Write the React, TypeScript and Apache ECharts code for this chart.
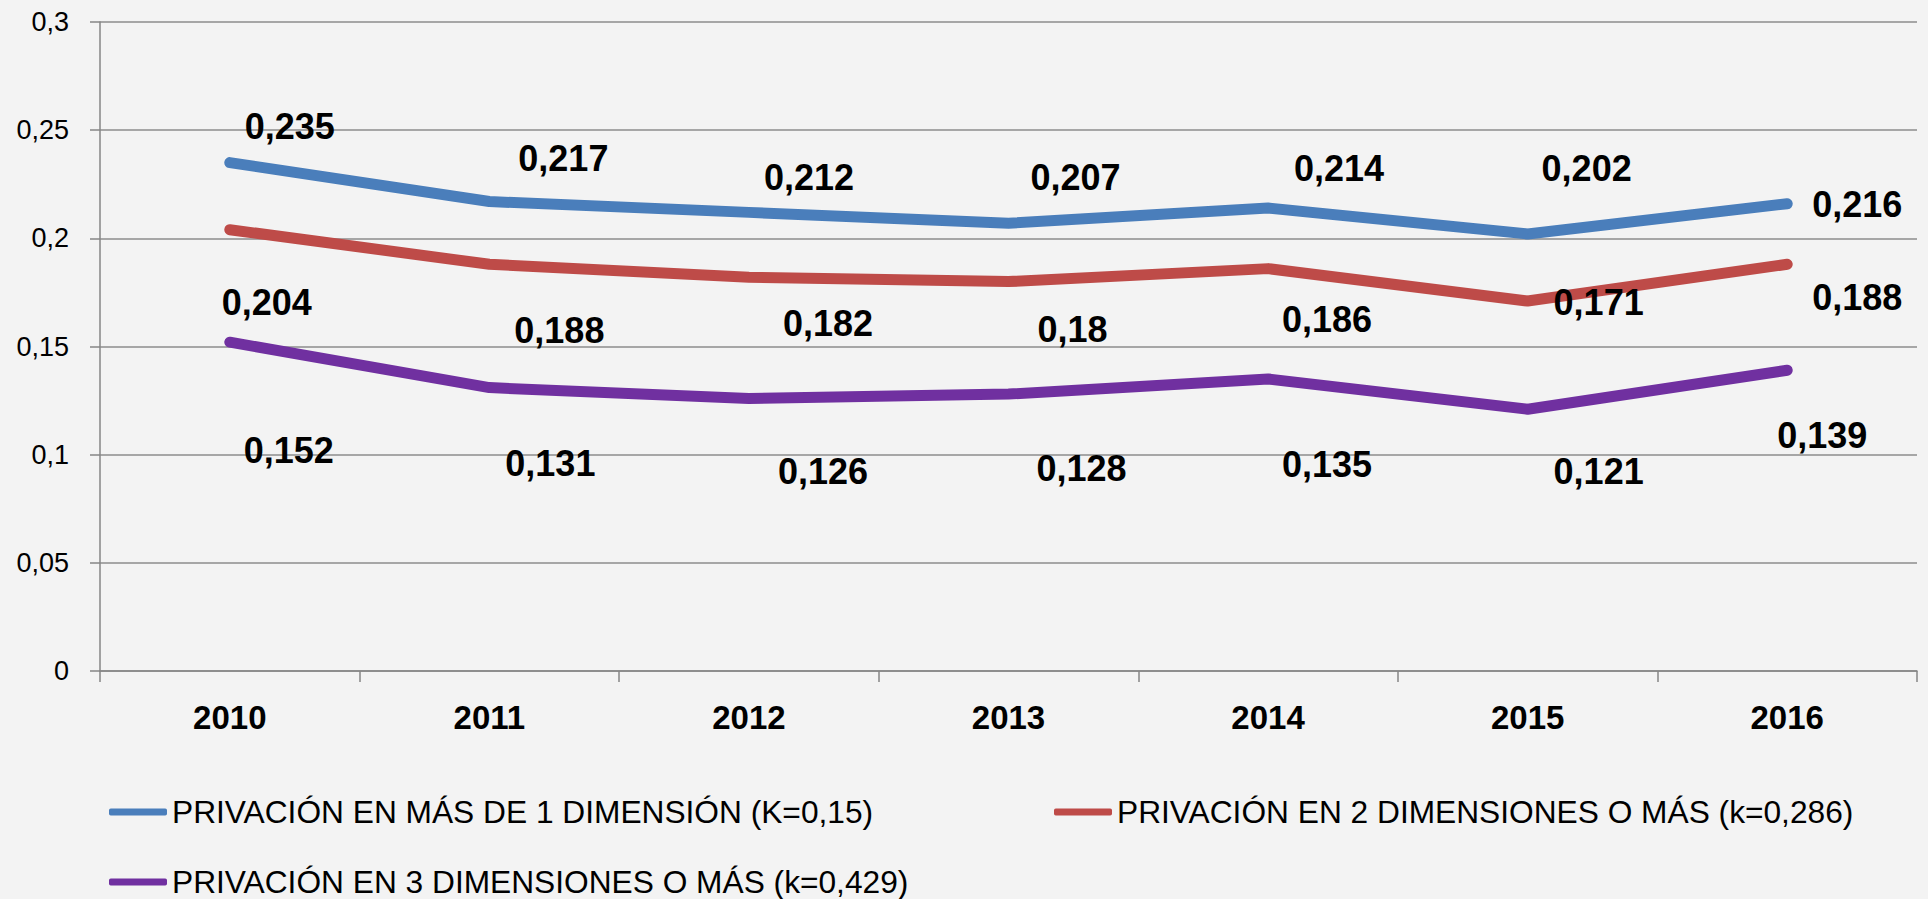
import React, { useEffect, useRef } from "react";
import * as echarts from "echarts";

const years = ["2010", "2011", "2012", "2013", "2014", "2015", "2016"];
const seriesNames = [
  "PRIVACIÓN EN MÁS DE 1 DIMENSIÓN (K=0,15)",
  "PRIVACIÓN EN 2 DIMENSIONES O MÁS (k=0,286)",
  "PRIVACIÓN EN 3 DIMENSIONES O MÁS (k=0,429)",
];
const masDe1 = [0.235, 0.217, 0.212, 0.207, 0.214, 0.202, 0.216];
const dosOMas = [0.204, 0.188, 0.182, 0.18, 0.186, 0.171, 0.188];
const tresOMas = [0.152, 0.131, 0.126, 0.128, 0.135, 0.121, 0.139];
const yTicks = { min: 0, max: 0.3, interval: 0.05 };

// label placement nudges (layout only, pixels relative to the point)
const labelNudges: number[][][] = [
  [[60, -36], [74, -43], [60, -35], [67, -46], [71, -40], [59, -66], [70, 1]],
  [[37, 73], [70, 66], [79, 46], [64, 48], [59, 51], [71, 1], [70, 33]],
  [[59, 108], [61, 76], [74, 73], [73, 74], [59, 86], [71, 62], [35, 65]],
];
const colors = ["#4A7EBB", "#BE4B48", "#7030A0"];
// legend placement (layout only)
const legendSpots = [
  { left: 109, top: 796 },
  { left: 1054, top: 796 },
  { left: 109, top: 866 },
];

const FONT = "Liberation Sans";
const fmt = (v: number) => String(+Number(v).toFixed(4)).replace(".", ",");

export default function App() {
  const ref = useRef<HTMLDivElement>(null);
  useEffect(() => {
    if (!ref.current) return;
    const chart = echarts.init(ref.current, undefined, { renderer: "svg" });
    const allData = [masDe1, dosOMas, tresOMas];
    const series = allData.map((vals, si) => ({
      name: seriesNames[si],
      type: "line",
      data: vals.map((v, i) => ({
        value: v,
        label: { offset: labelNudges[si][i] },
      })),
      symbol: "circle",
      symbolSize: 1,
      showSymbol: true,
      lineStyle: { color: colors[si], width: 11, cap: "round", join: "round" },
      itemStyle: { color: colors[si] },
      label: {
        show: true,
        position: "inside",
        align: "center",
        verticalAlign: "middle",
        formatter: (p: any) => fmt(p.value),
        fontFamily: FONT,
        fontWeight: "bold",
        fontSize: 36,
        color: "#000",
      },
      emphasis: { disabled: true },
    }));
    const legends = seriesNames.map((name, i) => ({
      data: [name],
      orient: "horizontal",
      left: legendSpots[i].left,
      top: legendSpots[i].top,
      padding: 0,
      itemWidth: 58,
      itemHeight: 7,
      icon: "roundRect",
      textStyle: { fontFamily: FONT, fontSize: 31.7, color: "#000", lineHeight: 32 },
      selectedMode: false,
    }));
    chart.setOption({
      animation: false,
      backgroundColor: "#F3F3F3",
      grid: { left: 100, right: 11, top: 22, bottom: 228, containLabel: false },
      xAxis: {
        type: "category",
        data: years,
        boundaryGap: true,
        axisLine: { show: true, lineStyle: { color: "#868686", width: 1.5 } },
        axisTick: { show: true, interval: 0, length: 11, alignWithLabel: false, lineStyle: { color: "#868686", width: 1.5 } },
        axisLabel: { fontFamily: FONT, fontWeight: "bold", fontSize: 33, color: "#000", margin: 30, interval: 0 },
        splitLine: { show: false },
      },
      yAxis: {
        type: "value",
        min: yTicks.min,
        max: yTicks.max,
        interval: yTicks.interval,
        axisLine: { show: true, lineStyle: { color: "#868686", width: 1.5 } },
        axisTick: { show: true, length: 10, lineStyle: { color: "#868686", width: 1.5 } },
        axisLabel: { fontFamily: FONT, fontSize: 27, color: "#000", margin: 31, formatter: (v: number) => fmt(v) },
        splitLine: { show: true, lineStyle: { color: "#8C8C8C", width: 1.5 } },
      },
      legend: legends,
      series,
    });
    return () => chart.dispose();
  }, []);
  return (
    <div
      ref={ref}
      style={{ position: "fixed", left: 0, top: 0, width: 1928, height: 899, background: "#F3F3F3" }}
    />
  );
}
